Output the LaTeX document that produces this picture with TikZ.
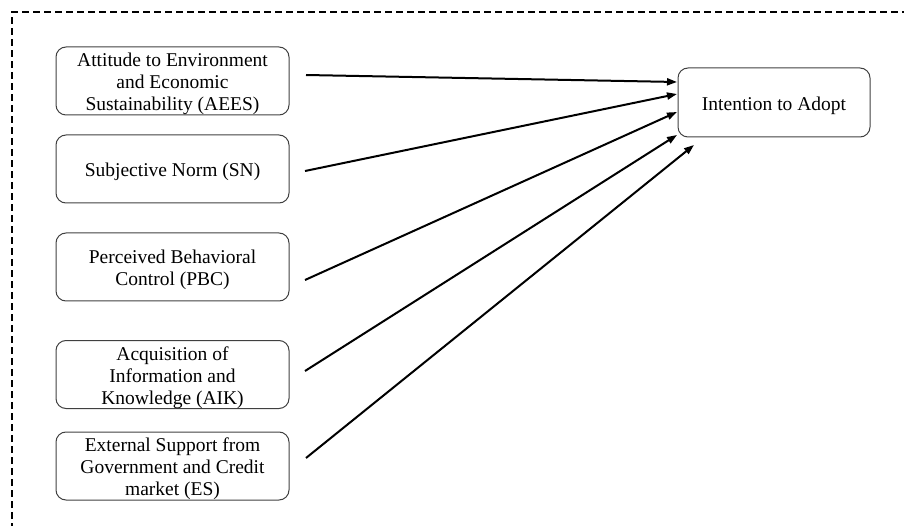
\documentclass[tikz,border=0pt]{standalone}
\usepackage{fontspec}
\setmainfont{Liberation Serif}
\usetikzlibrary{arrows.meta}
\newcommand{\toppad}{\rule{0pt}{19.5pt}}
\begin{document}
\begin{tikzpicture}[x=1pt,y=-1pt,
  boxbase/.style={draw=black!75, line width=1pt, rounded corners=10pt, inner sep=0pt, align=center, font=\fontsize{19.5}{22}\selectfont},
  factor/.style={boxbase, minimum width=233pt, minimum height=68pt},
  target/.style={boxbase, minimum width=192pt, minimum height=69pt},
  link/.style={line width=2pt, -{Triangle[length=10pt,width=7pt]}}]
\useasboundingbox (0,0) rectangle (904,526);
\draw[line width=1.8pt, dash pattern=on 7pt off 4pt] (12,530) -- (12,12) -- (910,12);
\node[factor] (aees) at (172.5,81) {\toppad Attitude to Environment\\and Economic\\Sustainability (AEES)};
\node[factor] (sn) at (172.5,169) {\toppad Subjective Norm (SN)};
\node[factor] (pbc) at (172.5,267) {\toppad Perceived Behavioral\\Control (PBC)};
\node[factor] (aik) at (172.5,374.5) {\toppad Acquisition of\\Information and\\Knowledge (AIK)};
\node[factor] (es) at (172.5,466) {\toppad External Support from\\Government and Credit\\market (ES)};
\node[target] (ita) at (774,102.5) {\toppad Intention to Adopt};
\coordinate (s1) at (306,75);
\coordinate (s2) at (305,171);
\coordinate (s3) at (305,280);
\coordinate (s4) at (305,371);
\coordinate (s5) at (306,458);
\coordinate (e1) at (677,82);
\coordinate (e2) at (677,94);
\coordinate (e3) at (677,112);
\coordinate (e4) at (677,135);
\coordinate (e5) at (694,145);
\draw[link] (s1) -- (e1);
\draw[link] (s2) -- (e2);
\draw[link] (s3) -- (e3);
\draw[link] (s4) -- (e4);
\draw[link] (s5) -- (e5);
\end{tikzpicture}
\end{document}
